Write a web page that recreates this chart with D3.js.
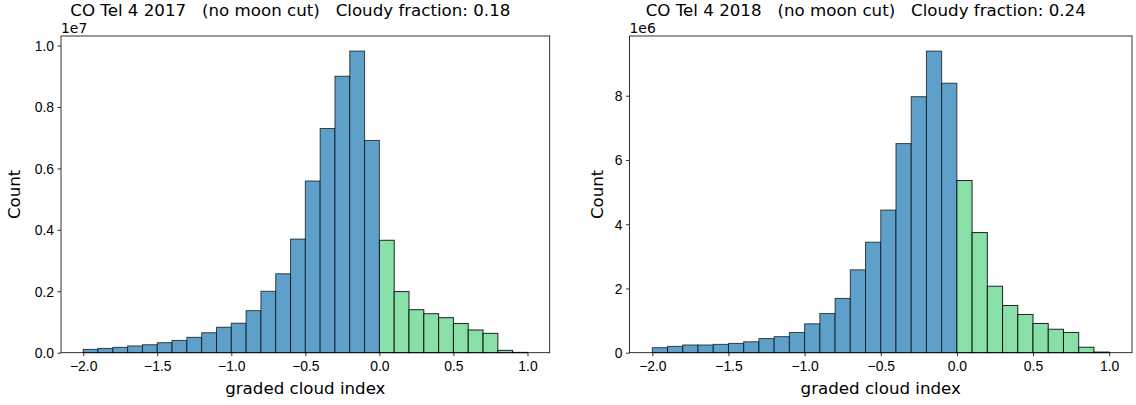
<html>
    <head>
        <meta charset="utf-8">
        <script src="https://d3js.org/d3.v7.min.js"></script>
        <style>
            body { margin: 0; background: #fff; }
            svg { font-family: "DejaVu Sans", sans-serif; }
            .tick text { font-size: 13.9px; fill: #000; }
            .tick line { stroke: #000; stroke-width: 0.8px; }
            .frame { fill: none; stroke: #000; stroke-width: 0.8px; }
            .title { font-size: 16.67px; white-space: pre; }
            .axis-label { font-size: 16.67px; }
            .offset { font-size: 13.9px; }
        </style>
    </head>
    <body>
        <script>
            // left edges of the histogram bins (width 0.1)
            var binStart = [-2.0, -1.9, -1.8, -1.7, -1.6, -1.5, -1.4, -1.3, -1.2, -1.1,
                            -1.0, -0.9, -0.8, -0.7, -0.6, -0.5, -0.4, -0.3, -0.2, -0.1,
                             0.0,  0.1,  0.2,  0.3,  0.4,  0.5,  0.6,  0.7,  0.8,  0.9];
            var binWidth = 0.1;

            var counts2017 = [1.09e5, 1.4e5, 1.74e5, 2.2e5, 2.6e5, 3.26e5, 4.0e5, 5.0e5, 6.5e5, 8.3e5,
                              9.6e5, 1.37e6, 2.0e6, 2.57e6, 3.70e6, 5.59e6, 7.30e6, 9.0e6, 9.82e6, 6.91e6,
                              3.66e6, 1.99e6, 1.40e6, 1.27e6, 1.14e6, 0.95e6, 0.74e6, 0.63e6, 0.076e6, 0.01e6];

            var counts2018 = [1.56e5, 1.97e5, 2.4e5, 2.4e5, 2.6e5, 2.9e5, 3.4e5, 4.4e5, 5.0e5, 6.3e5,
                              9.0e5, 1.22e6, 1.69e6, 2.58e6, 3.44e6, 4.44e6, 6.51e6, 7.97e6, 9.39e6, 8.39e6,
                              5.36e6, 3.74e6, 2.07e6, 1.47e6, 1.19e6, 0.91e6, 0.73e6, 0.63e6, 0.17e6, 0.02e6];

            var xTicks = [-2.0, -1.5, -1.0, -0.5, 0.0, 0.5, 1.0];
            var yTicks2017 = [0, 0.2e7, 0.4e7, 0.6e7, 0.8e7, 1.0e7];
            var yTicks2018 = [0, 2e6, 4e6, 6e6, 8e6];

            var titles = ["CO Tel 4 2017   (no moon cut)   Cloudy fraction: 0.18",
                          "CO Tel 4 2018   (no moon cut)   Cloudy fraction: 0.24"];

            var clearColor = "#5fa0ca",
                cloudyColor = "#88dfa7";

            var width = 1136, height = 405;

            var svg = d3.select("body").append("svg")
                .attr("width", width)
                .attr("height", height);

            function drawPanel(opts) {
                var left = opts.left, right = opts.right,
                    top = 36, bottom = 352.7;

                var x = d3.scaleLinear()
                    .domain([-2.15, 1.15])
                    .range([left, right]);

                var yMax = d3.max(opts.counts) * 1.05;
                var y = d3.scaleLinear()
                    .domain([0, yMax])
                    .range([bottom, top]);

                var g = svg.append("g");

                var bins = binStart.map(function (b, i) {
                    return {x0: b, x1: b + binWidth, count: opts.counts[i]};
                });

                g.selectAll(".bar")
                    .data(bins)
                    .enter().append("rect")
                    .attr("class", "bar")
                    .attr("x", function (d) { return x(d.x0); })
                    .attr("width", function (d) { return x(d.x1) - x(d.x0); })
                    .attr("y", function (d) { return y(d.count); })
                    .attr("height", function (d) { return bottom - y(d.count); })
                    .style("fill", function (d) { return d.x0 < -0.01 ? clearColor : cloudyColor; })
                    .style("stroke", "#000")
                    .style("stroke-width", 1)
                    .style("stroke-opacity", function (d) { return d.x0 < -0.01 ? 0.7 : 0.85; });

                var xAxis = g.append("g")
                    .attr("transform", "translate(0," + bottom + ")")
                    .call(d3.axisBottom(x)
                        .tickValues(xTicks)
                        .tickSize(3.5)
                        .tickPadding(4.5)
                        .tickFormat(function (d) { return d3.format(".1f")(d).replace("-", "\u2212"); }));
                xAxis.select(".domain").remove();
                xAxis.selectAll("text").attr("dy", "0.71em");

                var yAxis = g.append("g")
                    .attr("transform", "translate(" + left + ",0)")
                    .call(d3.axisLeft(y)
                        .tickValues(opts.yTicks)
                        .tickSize(3.5)
                        .tickPadding(3.5)
                        .tickFormat(opts.yFormat));
                yAxis.select(".domain").remove();
                yAxis.selectAll("text").attr("dy", "0.36em");

                g.append("rect")
                    .attr("class", "frame")
                    .attr("x", left)
                    .attr("y", top)
                    .attr("width", right - left)
                    .attr("height", bottom - top);

                g.append("text")
                    .attr("class", "offset")
                    .attr("x", left)
                    .attr("y", 32.5)
                    .text(opts.offset);

                g.append("text")
                    .attr("class", "title")
                    .attr("x", (left + right) / 2 - 15)
                    .attr("y", 15.5)
                    .attr("text-anchor", "middle")
                    .text(opts.title);

                g.append("text")
                    .attr("class", "axis-label")
                    .attr("x", (left + right) / 2)
                    .attr("y", 394.3)
                    .attr("text-anchor", "middle")
                    .text("graded cloud index");

                g.append("text")
                    .attr("class", "axis-label")
                    .attr("transform", "translate(" + opts.ylabelX + "," + (top + bottom) / 2 + ") rotate(-90)")
                    .attr("text-anchor", "middle")
                    .text("Count");
            }

            drawPanel({
                left: 61, right: 549.7,
                counts: counts2017,
                yTicks: yTicks2017,
                yFormat: function (d) { return d3.format(".1f")(d / 1e7); },
                offset: "1e7",
                title: titles[0],
                ylabelX: 19.5
            });

            drawPanel({
                left: 629.5, right: 1132,
                counts: counts2018,
                yTicks: yTicks2018,
                yFormat: function (d) { return d3.format("d")(d / 1e6); },
                offset: "1e6",
                title: titles[1],
                ylabelX: 603
            });
        </script>
    </body>
</html>
